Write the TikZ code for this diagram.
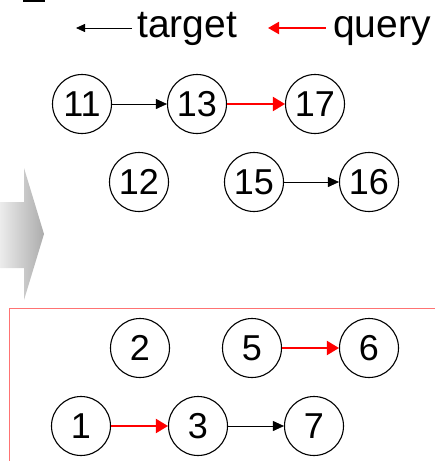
\documentclass[tikz,border=0pt]{standalone}
\usepackage{fontspec}
\setmainfont{Liberation Sans}
\usepackage{tikz}
\usetikzlibrary{arrows.meta}

\begin{document}
\begin{tikzpicture}[x=1pt,y=-1pt,
    state/.style={circle, draw, line width=1.1pt, minimum size=59pt, inner sep=0pt,
      font=\fontsize{36}{40}\selectfont},
    legend/.style={anchor=west, inner sep=0pt, text height=29pt, text depth=10pt,
      font=\fontsize{39}{44}\selectfont},
    tedge/.style={-{Triangle[length=11pt,width=10pt]}, line width=0.8pt},
    qedge/.style={-{Triangle[length=12pt,width=14pt]}, line width=2pt, red}]
      \useasboundingbox (0,0) rectangle (435,461);
      \draw[black, line width=1.6pt] (23,0.8) -- (45,0.8);
      % legend
      \node[legend] at (137, 28) (Ltarget) {target};
      \node[legend] at (333, 28) (Lquery) {query};
      \coordinate (Tend) at (76, 28);
      \coordinate (Qend) at (268, 28);
      \draw[{Triangle[length=9pt,width=8pt]}-, line width=0.8pt, shorten >=5pt] (Tend) -- (Ltarget.west);
      \draw[{Triangle[length=11pt,width=12pt]}-, line width=2pt, red, shorten >=7pt] (Qend) -- (Lquery.west);
      % big gray arrow
      \shade[left color=gray!15, right color=gray!65]
        (0,202) -- (24,202) -- (24,168) -- (44,234) -- (24,300) -- (24,268) -- (0,268) -- cycle;
      % upper graph
      \node[state] at (82, 104) (V11) {11};
      \node[state] at (197, 104) (V13) {13};
      \node[state] at (315, 104) (V17) {17};
      \node[state] at (139, 182) (V12) {12};
      \node[state] at (254, 182) (V15) {15};
      \node[state] at (369, 182) (V16) {16};
      \draw[tedge] (V11) -- (V13);
      \draw[qedge] (V13) -- (V17);
      \draw[tedge] (V15) -- (V16);
      % lower graph
      \draw[red!55, line width=1pt] (9,470) -- (9,308) -- (440,308);
      \node[state] at (140, 348) (V2) {2};
      \node[state] at (252, 348) (V5) {5};
      \node[state] at (369, 348) (V6) {6};
      \node[state] at (81, 426) (V1) {1};
      \node[state] at (198, 426) (V3) {3};
      \node[state] at (314, 426) (V7) {7};
      \draw[qedge] (V5) -- (V6);
      \draw[qedge] (V1) -- (V3);
      \draw[tedge] (V3) -- (V7);
  \end{tikzpicture}
\end{document}
